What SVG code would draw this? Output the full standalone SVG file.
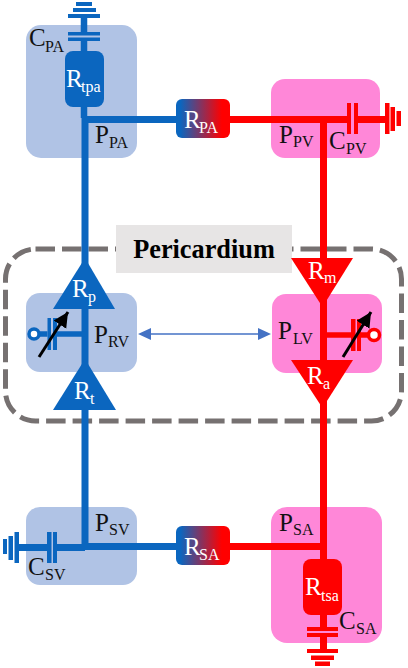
<svg xmlns="http://www.w3.org/2000/svg" width="408" height="668" viewBox="0 0 408 668">
<style>
text{font-family:"Liberation Serif","Times New Roman",serif;font-size:25px;fill:#111}
.s{font-size:16px}
.w{fill:#fff}
.bb{fill:#b0c3e5}
.pb{fill:#ff87d8}
.b{fill:#0b66bf}
.r{fill:#ff0000}
.bl{stroke:#0b66bf;fill:none}
.rl{stroke:#ff0000;fill:none}
.arr{stroke:#000;stroke-width:3;fill:none}
</style>
<defs>
<linearGradient id="grad"><stop offset="0.08" stop-color="#0b66bf"/><stop offset="0.85" stop-color="#ff0000"/></linearGradient>
<marker id="ak" markerUnits="userSpaceOnUse" markerWidth="16" markerHeight="16" refX="15" refY="7.5" orient="auto"><path d="M0 0L15 7.5L0 15Z" fill="#000"/></marker>
</defs>
<rect width="408" height="668" fill="#fff"/>
<g id="chambers">
<rect id="box-pa" class="bb" x="26" y="25" width="111" height="133" rx="15"/>
<rect id="box-pv" class="pb" x="271" y="79" width="109" height="79" rx="14"/>
<rect id="box-rv" class="bb" x="26" y="293" width="111" height="79" rx="14"/>
<rect id="box-lv" class="pb" x="272" y="294" width="110" height="79" rx="14"/>
<rect id="box-sv" class="bb" x="26" y="507" width="111" height="78" rx="14"/>
<rect id="box-sa" class="pb" x="271" y="507" width="111" height="136" rx="16"/>
</g>
<g id="pericardium">
<rect x="5.500" y="249" width="396" height="172" rx="30" fill="none" stroke="#767171" stroke-width="5" stroke-dasharray="19.500 7"/>
<rect x="116" y="225" width="176" height="48" fill="#e7e5e5"/>
<text x="204" y="258" text-anchor="middle" style="font-weight:bold;font-size:26.300px;fill:#000">Pericardium</text>
</g>
<g id="connectors">
<path class="bl" stroke-width="6.500" d="M84 18V32M84 41V118"/>
<path class="bl" stroke-width="7" d="M85 116V550M85 119.500H176M19 547.500H47M57 547.500H85M85 546.500H176"/>
<path class="bl" stroke-width="5.500" d="M85 334H57M39 334H47.500"/>
<path class="rl" stroke-width="7" d="M323.500 120V560M230 119.500H347M358 119.500H385M230 546.500H323.500M323.500 615V627M323.500 637V650"/>
<path class="rl" stroke-width="5.500" d="M323.500 335H351M361 335H368"/>
<line x1="151" y1="334" x2="258" y2="334" stroke="#4472c4" stroke-width="1.500"/>
<path d="M151 328L138 334L151 340ZM258 328L271 334L258 340Z" fill="#4472c4"/>
</g>
<g id="C-PA">
<rect class="b" x="76" y="2" width="16" height="4"/><rect class="b" x="73" y="8" width="23" height="4"/><rect class="b" x="68" y="14" width="32" height="4"/>
<rect class="b" x="68" y="32" width="32" height="3.500"/><rect class="b" x="68" y="37.500" width="32" height="3.500"/>
<text x="29" y="46">C<tspan class="s" x="45" y="52">PA</tspan></text>
</g>
<g id="R-tpa">
<rect class="b" x="65" y="51" width="39" height="56" rx="8"/>
<text class="w" x="66" y="87">R<tspan class="s w" x="81" y="92">tpa</tspan></text>
</g>
<g id="P-PA"><text x="95" y="143">P<tspan class="s" x="109" y="148">PA</tspan></text></g>
<g id="R-PA">
<rect x="176" y="99" width="54" height="39" rx="6" fill="url(#grad)"/>
<text class="w" x="184" y="128">R<tspan class="s w" x="199" y="133">PA</tspan></text>
</g>
<g id="P-PV"><text x="279" y="143">P<tspan class="s" x="293" y="147">PV</tspan></text></g>
<g id="C-PV">
<rect class="r" x="347" y="103" width="4" height="31"/><rect class="r" x="354" y="103" width="4" height="31"/>
<rect class="r" x="385" y="103" width="4.500" height="31"/><rect class="r" x="390.500" y="107" width="4.500" height="24"/><rect class="r" x="396.500" y="111" width="4.500" height="15"/>
<text x="329" y="149">C<tspan class="s" x="346" y="154">PV</tspan></text>
</g>
<g id="R-p">
<path class="b" d="M85 258L115 309H53Z"/>
<text class="w" x="72" y="297">R<tspan class="s w" x="88" y="302">p</tspan></text>
</g>
<g id="R-t">
<path class="b" d="M85 359L116 410H53Z"/>
<text class="w" x="74" y="399">R<tspan class="s w" x="90" y="404">t</tspan></text>
</g>
<g id="RV">
<rect class="b" x="47.500" y="318" width="3.500" height="32"/><rect class="b" x="53" y="318" width="4" height="32"/>
<circle cx="34" cy="334" r="5" fill="#fff" stroke="#0b66bf" stroke-width="3.500"/>
<line class="arr" x1="39" y1="357" x2="68" y2="312" marker-end="url(#ak)"/>
<text x="94" y="343">P<tspan class="s" x="108" y="347">RV</tspan></text>
</g>
<g id="R-m">
<path class="r" d="M291 258H353L322.500 307Z"/>
<text class="w" x="308" y="279">R<tspan class="s w" x="324" y="283">m</tspan></text>
</g>
<g id="R-a">
<path class="r" d="M291 360H353L322.500 408Z"/>
<text class="w" x="307" y="384">R<tspan class="s w" x="323" y="389">a</tspan></text>
</g>
<g id="LV">
<rect class="r" x="351" y="319" width="4.500" height="32"/><rect class="r" x="357" y="319" width="4" height="32"/>
<circle cx="374" cy="335" r="5.500" fill="#fff" stroke="#ff0000" stroke-width="3.500"/>
<line class="arr" x1="343" y1="357" x2="371" y2="312" marker-end="url(#ak)"/>
<text x="278" y="339">P<tspan class="s" x="293" y="344">LV</tspan></text>
</g>
<g id="P-SV"><text x="95" y="531">P<tspan class="s" x="109" y="535">SV</tspan></text></g>
<g id="C-SV">
<rect class="b" x="47" y="532" width="4.500" height="31"/><rect class="b" x="53" y="532" width="4" height="31"/>
<rect class="b" x="14.500" y="532" width="4.500" height="31"/><rect class="b" x="8.500" y="536" width="4.500" height="24"/><rect class="b" x="3" y="539" width="4" height="15"/>
<text x="28" y="575">C<tspan class="s" x="45" y="580">SV</tspan></text>
</g>
<g id="R-SA">
<rect x="176" y="526" width="54" height="39" rx="6" fill="url(#grad)"/>
<text class="w" x="184" y="555">R<tspan class="s w" x="199" y="560">SA</tspan></text>
</g>
<g id="P-SA"><text x="279" y="531">P<tspan class="s" x="293" y="535">SA</tspan></text></g>
<g id="R-tsa">
<rect class="r" x="303" y="559" width="39" height="56" rx="8"/>
<text class="w" x="305" y="595">R<tspan class="s w" x="321" y="601">tsa</tspan></text>
</g>
<g id="C-SA">
<rect class="r" x="307" y="627" width="31" height="4"/><rect class="r" x="307" y="633" width="31" height="4"/>
<rect class="r" x="307" y="649" width="31" height="4"/><rect class="r" x="311" y="655.500" width="23" height="4.500"/><rect class="r" x="315" y="661.500" width="15" height="4.500"/>
<text x="339" y="629">C<tspan class="s" x="356" y="634">SA</tspan></text>
</g>
</svg>
